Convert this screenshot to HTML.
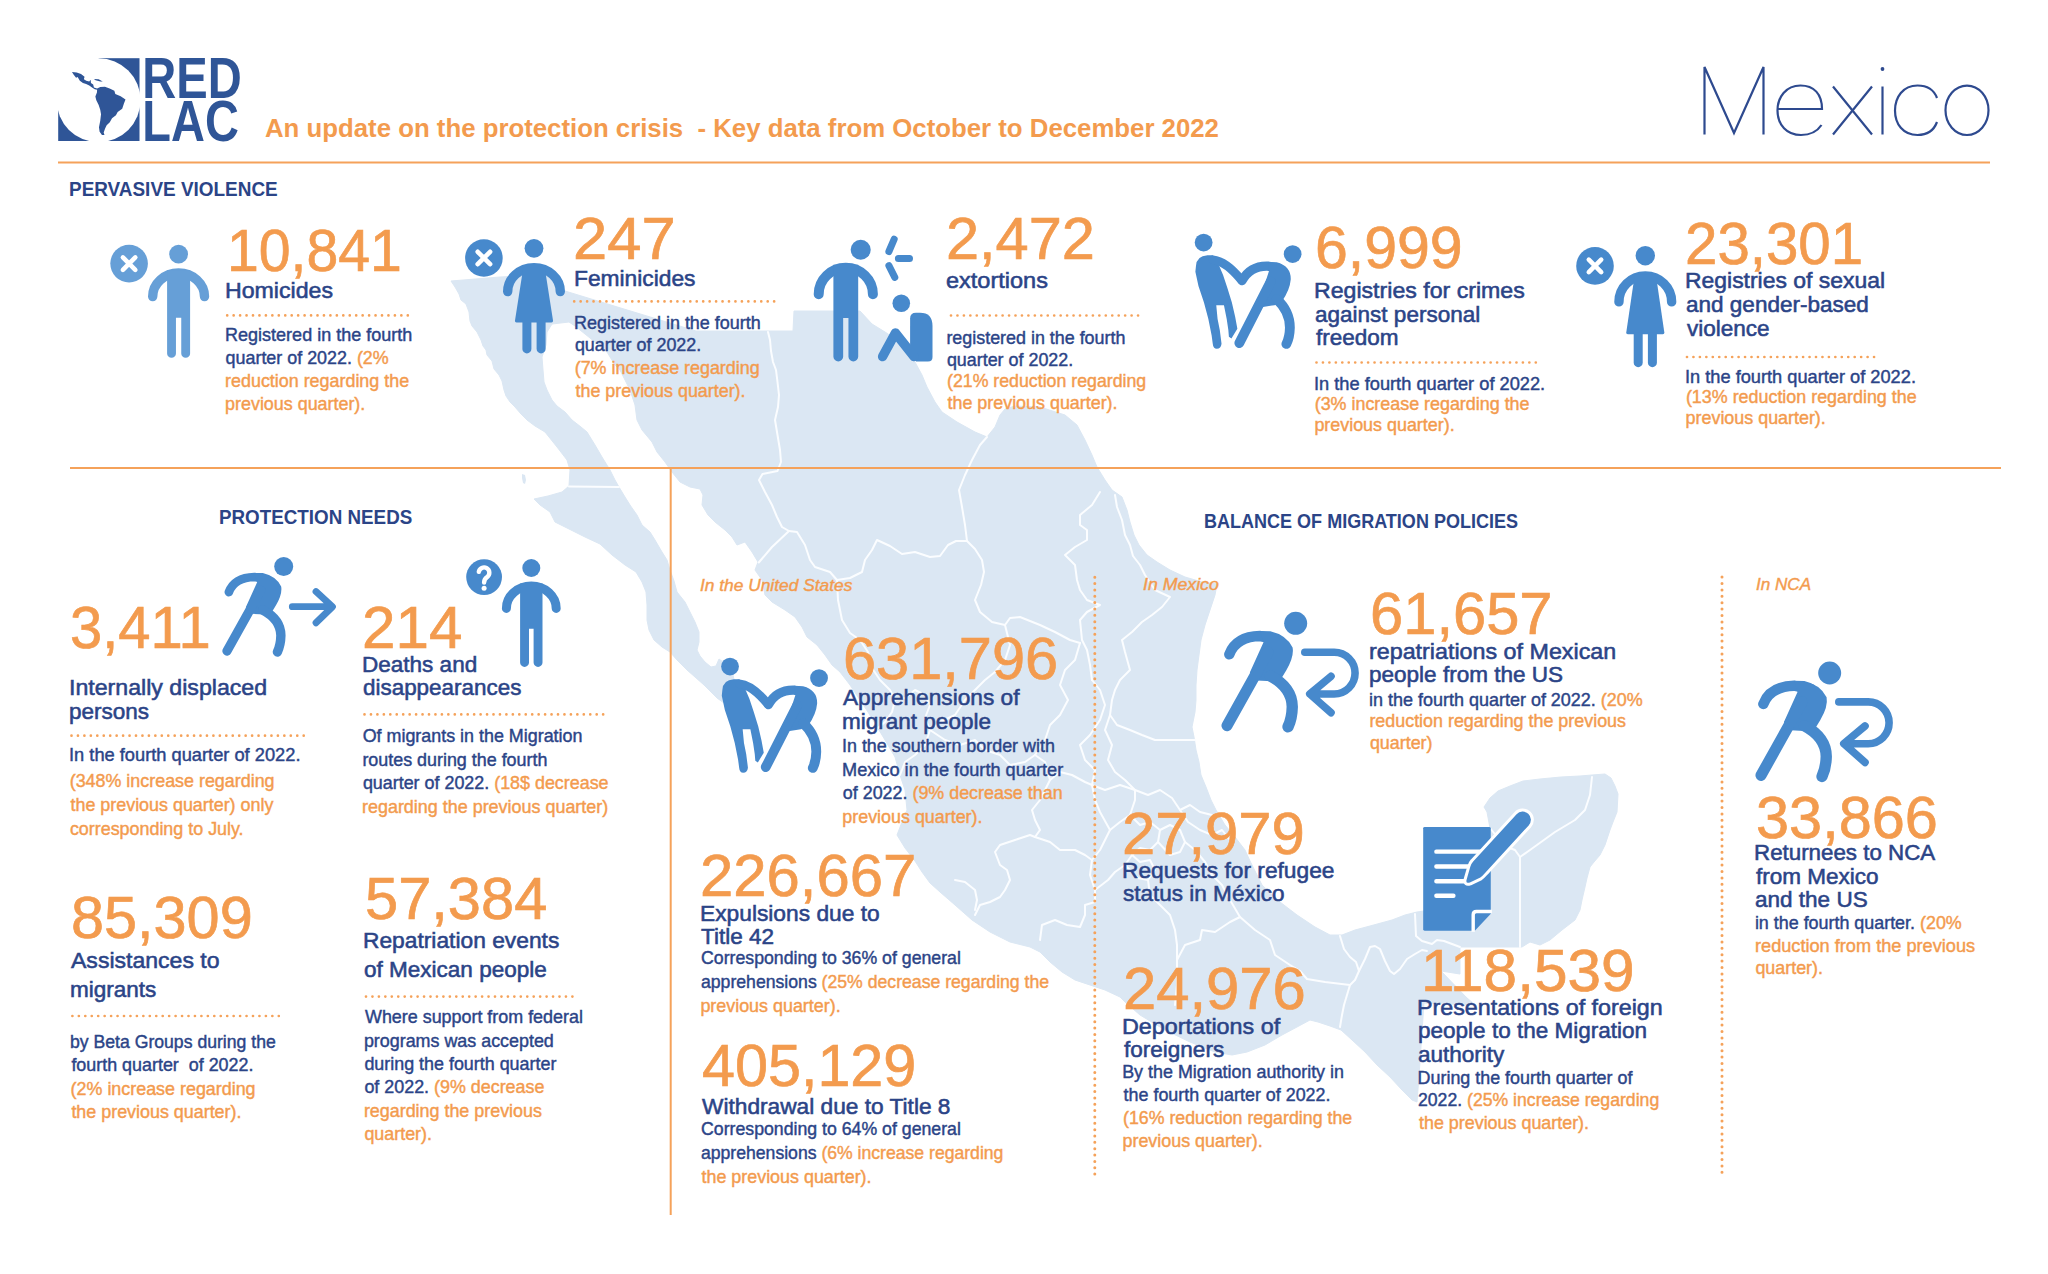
<!DOCTYPE html><html><head><meta charset="utf-8"><title>RED LAC - Mexico</title><style>
html,body{margin:0;padding:0;background:#fff}
body{width:2048px;height:1274px;position:relative;overflow:hidden;font-family:"Liberation Sans",sans-serif}
.t{position:absolute;white-space:pre;transform-origin:0 0;line-height:1}
.num{font-size:60px;font-weight:400;font-style:normal;-webkit-text-stroke:0.7px;}
.lab{font-size:22.3px;font-weight:400;font-style:normal;-webkit-text-stroke:0.55px;}
.body{font-size:17.9px;font-weight:400;font-style:normal;-webkit-text-stroke:0.42px;}
.hdr{font-size:19.5px;font-weight:700;font-style:normal;}
.sub{font-size:25.8px;font-weight:700;font-style:normal;}
.ita{font-size:17px;font-weight:400;font-style:italic;-webkit-text-stroke:0.4px;}
</style></head><body>
<svg width="2048" height="1274" viewBox="0 0 2048 1274" style="position:absolute;left:0;top:0">
<polygon points="451,281 500,277 556,274 560,284 565,291 696,331 793,331 794,311 860,311 872,324 885,332 897,340 906,351 915,362 922,375 927,387 935,402 942,412 957,422 975,432 987,437 995,427 1000,415 1005,409 1015,406 1040,407 1065,415 1077,425 1085,440 1092,455 1097,467 1105,480 1112,490 1122,497 1127,510 1130,522 1134,535 1139,545 1147,555 1157,562 1170,570 1185,577 1202,582 1217,584 1215,595 1210,610 1205,625 1201,640 1199,655 1197,670 1196,685 1196,700 1195,712 1192,727 1194,737 1196,750 1199,762 1201,775 1206,787 1211,800 1216,810 1225,825 1235,837 1245,850 1250,861 1262,885 1280,902 1297,915 1315,927 1330,935 1342,935 1355,930 1370,926 1392,920 1405,915 1417,912 1424,911 1440,903 1455,892 1467,878 1477,862 1485,845 1490,828 1487,812 1484,807 1490,798 1498,791 1510,786 1523,781 1540,779 1561,777 1580,776 1592,775 1605,774 1611,778 1615,786 1618,794 1617,812 1613,822 1610,830 1605,845 1600,855 1594,862 1590,867 1587,878 1585,887 1582,900 1580,910 1575,920 1562,930 1550,940 1540,945 1530,942 1522,947 1460,947 1460,974 1441,971 1466,997 1475,1005 1424,1003 1419,1076 1417,1102 1412,1100 1402,1090 1390,1077 1377,1065 1365,1052 1352,1040 1341,1030 1330,1026 1318,1022 1310,1020 1297,1027 1282,1035 1265,1045 1247,1052 1232,1055 1215,1052 1190,1042 1165,1030 1140,1015 1125,1002 1120,997 1105,990 1090,985 1075,980 1062,972 1050,962 1040,952 1030,947 1010,942 990,932 972,920 955,905 940,892 930,883 922,872 915,861 905,848 897,835 902,822 907,810 905,790 900,775 895,757 885,740 876,725 868,712 860,700 850,685 840,672 832,665 825,655 817,645 807,637 802,627 795,617 785,610 772,602 765,595 762,580 755,570 758,562 752,552 745,542 737,545 732,537 725,530 715,522 708,515 702,505 703,495 700,489 690,487 680,482 672,472 665,462 657,452 652,442 642,430 637,420 635,405 630,390 625,380 620,370 615,365 607,352 590,338 575,326 569,322 552,324 547,332 546,345 542,357 543,370 544,382 547,390 552,400 557,406 565,412 572,420 581,427 587,432 595,445 602,457 610,470 615,480 619,487 625,497 630,505 637,515 642,525 650,532 655,540 662,552 667,560 670,570 674,581 677,592 685,602 690,612 695,622 699,632 699,642 697,650 700,656 705,662 711,667 716,666 719,659 726,664 733,675 736,688 732,700 724,703 717,698 712,693 704,685 695,677 687,670 677,660 670,652 662,647 654,640 649,630 647,620 647,605 646,592 642,582 636,572 625,565 612,555 600,544 585,537 575,532 565,527 555,522 550,512 540,505 534,499 548,496 562,492 569,486 570,470 567,460 557,447 545,432 535,426 527,420 521,414 515,407 510,402 506,396 504,390 502,381 499,375 494,369 492,361 487,355 486,350 483,346 481,340 477,332 472,326 470,321 469,312 466,304 461,300 459,294 455,287" fill="#dbe7f3" stroke="#dbe7f3" stroke-width="1" stroke-linejoin="round"/>
<polygon points="522,474 525,475 526,480 525,484 523,483 522,478" fill="#dbe7f3"/>
<g fill="none" stroke="#fbfdff" stroke-width="2" stroke-linejoin="round" stroke-linecap="round">
<polyline points="569,486.5 619,487"/>
<polyline points="768,332 770,340 771,351 773,362 776,370 777.5,382 779,395 778,407 775,420 777.5,435 780,450 781,462 777.5,471 762.5,474 759,480 765,492 772,505 777,517 782,527 789,531"/>
<polyline points="789,531 772,547 758.75,562.5"/>
<polyline points="789,531 797,532 805,545 810,560 815,567 830,572 837,580"/>
<polyline points="837,580 850,578 862,572 865,560 872,550 877,540 890,546 902,554 915,552 930,557 940,556 948,545 956,541 967,541"/>
<polyline points="987,437 980,445 972,460 965,475 959,490 962,507 965,525 967,541"/>
<polyline points="967,541 975,549 982,560 984,572 981,585 975,600 980,612 992,622 1005,625 1010,618 1020,617 1040,625 1055,632 1070,640 1080,643"/>
<polyline points="1100,492 1092,505 1080,515 1080,525 1087,530 1087,540 1075,547 1065,555 1075,565 1077,580 1080,590 1087,600 1100,605 1087,612 1080,620 1082,640 1087,650 1090,665 1092,680"/>
<polyline points="1115,495 1117,507 1122,520 1125,535 1130,545 1133,556 1140,565 1145,575 1155,590 1170,597 1162,607 1152,615 1142,622 1132,632 1122,640 1125,652 1130,670 1120,680 1115,690 1112,700 1110,715 1117,725 1130,730 1142,735 1155,740 1167,740 1180,740 1195,740"/>
<polyline points="837,580 838,600 842,620 850,633 860,640 868,652 872,668 880,680 890,690 895,700"/>
<polyline points="895,700 905,698 915,690 925,695 930,705 925,718 930,730"/>
<polyline points="895,700 892,712 885,722 878,728"/>
<polyline points="930,730 940,722 955,715 965,700 975,690 985,680 995,672 1005,660 1010,645 1005,625"/>
<polyline points="930,730 925,745 915,755 905,762 900,775"/>
<polyline points="930,730 945,740 960,745 975,740 985,750 1000,755 1010,765 1025,762 1035,755 1045,762 1050,780"/>
<polyline points="1080,643 1075,660 1065,670 1060,685 1068,700 1060,715 1050,725 1045,740 1035,755"/>
<polyline points="1092,680 1100,690 1105,705 1100,720 1090,735 1080,745 1085,760 1095,770 1092,785"/>
<polyline points="1110,715 1105,730 1112,745 1108,760 1115,772 1125,780 1135,790"/>
<polyline points="1050,780 1045,790 1040,800 1032,810 1035,820 1040,830 1035,837 1030,835 1015,840 1000,845 995,852 1000,865 1007,870 1010,880 1005,890 1000,897 990,902 980,905 975,915"/>
<polyline points="955,880 965,882 975,890 977,900 975,910"/>
<polyline points="1050,780 1060,772 1072,775 1085,782 1092,785 1105,790 1120,785 1135,790"/>
<polyline points="1035,837 1050,842 1060,850 1075,850 1085,855 1092,860 1100,850 1105,840 1110,830 1120,822 1130,815 1135,800 1135,790"/>
<polyline points="1092,785 1095,800 1100,812 1110,830"/>
<polyline points="1092,860 1090,875 1095,890 1095,902 1085,905 1085,915 1080,927 1067,925 1055,920 1042,925 1040,940"/>
<polyline points="1135,790 1148,795 1160,790 1172,798 1180,810 1190,805 1200,812 1212,815"/>
<polyline points="1130,815 1140,825 1150,822 1160,830 1158,842 1150,850 1140,848 1132,855 1125,865 1115,872 1108,880 1095,890"/>
<polyline points="1160,830 1170,825 1180,830 1185,842 1180,852 1170,855 1158,842"/>
<polyline points="1132,855 1140,862 1150,860 1155,870 1148,880 1138,878 1125,865"/>
<polyline points="1148,880 1150,895 1160,905 1170,915 1175,930 1177,945 1177,960 1177,985 1175,1005"/>
<polyline points="1185,842 1195,850 1205,862 1212,875 1222,885 1230,900 1240,917"/>
<polyline points="1180,810 1188,822 1200,830 1212,835 1222,830 1230,840"/>
<polyline points="1177,960 1185,945 1200,940 1202,930 1215,932 1230,922 1240,917 1255,930 1270,940 1275,955 1290,965 1300,971 1307,979 1325,982 1350,985"/>
<polyline points="1340,936 1344,949 1350,957 1356,962 1359,971 1355,980 1350,985 1347,995 1344,1005 1342,1015 1340,1027"/>
<polyline points="1359,971 1365,959 1370,947 1375,946 1380,949 1385,961 1390,971 1394,974 1400,969 1407,959 1415,954 1422,950 1427,951"/>
<polyline points="1415,914 1416,936 1422,941 1432,944 1437,940 1444,941 1452,944 1460,947"/>
<polyline points="1520,947 1520,857"/>
<polyline points="1520,857 1530,850 1555,832 1575,820 1585,810 1590,795 1592,777"/>
<polyline points="1520,857 1515,850 1507,847 1498,838 1490,828"/>
</g>
<g stroke="#f5a25a" stroke-width="2" fill="none">
<line x1="58" y1="162.5" x2="1990" y2="162.5"/>
<line x1="70" y1="468" x2="2001" y2="468"/>
<line x1="670.7" y1="468" x2="670.7" y2="1215"/>
</g>
<line x1="227.2" y1="315.4" x2="413" y2="315.4" stroke="#f5a25a" stroke-width="2.7" stroke-linecap="round" stroke-dasharray="0 6.45"/>
<line x1="574.2" y1="301.4" x2="776" y2="301.4" stroke="#f5a25a" stroke-width="2.7" stroke-linecap="round" stroke-dasharray="0 6.45"/>
<line x1="951" y1="315.5" x2="1143" y2="315.5" stroke="#f5a25a" stroke-width="2.7" stroke-linecap="round" stroke-dasharray="0 6.45"/>
<line x1="1316.5" y1="362.5" x2="1539" y2="362.5" stroke="#f5a25a" stroke-width="2.7" stroke-linecap="round" stroke-dasharray="0 6.45"/>
<line x1="1687" y1="357" x2="1879" y2="357" stroke="#f5a25a" stroke-width="2.7" stroke-linecap="round" stroke-dasharray="0 6.45"/>
<line x1="71.5" y1="735.7" x2="306" y2="735.7" stroke="#f5a25a" stroke-width="2.7" stroke-linecap="round" stroke-dasharray="0 6.45"/>
<line x1="364.5" y1="714.4" x2="606.5" y2="714.4" stroke="#f5a25a" stroke-width="2.7" stroke-linecap="round" stroke-dasharray="0 6.45"/>
<line x1="72.4" y1="1016" x2="280" y2="1016" stroke="#f5a25a" stroke-width="2.7" stroke-linecap="round" stroke-dasharray="0 6.45"/>
<line x1="366" y1="996.6" x2="574" y2="996.6" stroke="#f5a25a" stroke-width="2.7" stroke-linecap="round" stroke-dasharray="0 6.45"/>
<line x1="1094.8" y1="577.2" x2="1094.8" y2="1175" stroke="#f5a25a" stroke-width="3.0" stroke-linecap="round" stroke-dasharray="0 6.35"/>
<line x1="1722" y1="577.1" x2="1722" y2="1176" stroke="#f5a25a" stroke-width="3.0" stroke-linecap="round" stroke-dasharray="0 6.4"/>
<circle cx="129.1" cy="263.6" r="18.8" fill="#669fd7"/><path d="M122.9,257.4L135.3,269.8M135.3,257.4L122.9,269.8" stroke="#fff" stroke-width="4.6" stroke-linecap="round" fill="none"/>
<circle cx="178.6" cy="254.1" r="9.4" fill="#669fd7"/><path d="M152.7,296.6A25.9,23.6 0 0 1 204.5,296.6" stroke="#669fd7" stroke-width="9.4" stroke-linecap="round" fill="none"/><path d="M167.1,270.3L190.1,270.3L190.1,353.38A4.42,4.42 0 0 1 181.25,353.38L181.25,317.7L175.95,317.7L175.95,353.38A4.42,4.42 0 0 1 167.1,353.38Z" fill="#669fd7"/>
<circle cx="483.9" cy="258" r="18.8" fill="#4789cc"/><path d="M477.7,251.8L490.1,264.2M490.1,251.8L477.7,264.2" stroke="#fff" stroke-width="4.6" stroke-linecap="round" fill="none"/>
<circle cx="534" cy="248.3" r="9.4" fill="#4789cc"/><path d="M507.7,291.6A26.3,24 0 0 1 560.3,291.6" stroke="#4789cc" stroke-width="9.4" stroke-linecap="round" fill="none"/><path d="M523.5,265.9L544.5,265.9L553,320.4Q553.3,322.4 551.5,322.4L516.5,322.4Q514.7,322.4 515,320.4Z" fill="#4789cc"/><path d="M522.4,320.4L531.4,320.4L531.4,348.9A4.5,4.5 0 0 1 522.4,348.9Z" fill="#4789cc"/><path d="M536.6,320.4L545.6,320.4L545.6,348.9A4.5,4.5 0 0 1 536.6,348.9Z" fill="#4789cc"/>
<circle cx="1595" cy="265.9" r="18.8" fill="#4789cc"/><path d="M1588.8,259.7L1601.2,272.1M1601.2,259.7L1588.8,272.1" stroke="#fff" stroke-width="4.6" stroke-linecap="round" fill="none"/>
<circle cx="1645.3" cy="255.7" r="9.7" fill="#4789cc"/><path d="M1618.95,301.9A26.35,26 0 0 1 1671.65,301.9" stroke="#4789cc" stroke-width="9.4" stroke-linecap="round" fill="none"/><path d="M1634.8,274.2L1655.8,274.2L1664.3,332.15Q1664.6,334.27 1662.8,334.27L1627.8,334.27Q1626,334.27 1626.3,332.15Z" fill="#4789cc"/><path d="M1633.7,332.15L1642.7,332.15L1642.7,362.63A4.5,4.5 0 0 1 1633.7,362.63Z" fill="#4789cc"/><path d="M1647.9,332.15L1656.9,332.15L1656.9,362.63A4.5,4.5 0 0 1 1647.9,362.63Z" fill="#4789cc"/>
<circle cx="484.1" cy="577.1" r="17.9" fill="#4789cc"/><path d="M478.8,571.9A5.3,5.3 0 1 1 487.3,576.9Q484.1,578.9 484.1,582.6" stroke="#fff" stroke-width="4.4" fill="none" stroke-linecap="round"/><circle cx="484.1" cy="588.3" r="2.5" fill="#fff"/>
<circle cx="531.3" cy="568" r="9.0" fill="#4789cc"/><path d="M506.4,608.4A24.9,22.4 0 0 1 556.2,608.4" stroke="#4789cc" stroke-width="9.0" stroke-linecap="round" fill="none"/><path d="M520.1,583.5L542.5,583.5L542.5,662.45A4.45,4.45 0 0 1 533.6,662.45L533.6,628.7L529,628.7L529,662.45A4.45,4.45 0 0 1 520.1,662.45Z" fill="#4789cc"/>
<circle cx="860.7" cy="249.7" r="10" fill="#4789cc"/><path d="M818.7,294.2A27.1,26.5 0 0 1 872.9,294.2" stroke="#4789cc" stroke-width="10" stroke-linecap="round" fill="none"/><path d="M833.4,264.7L858.2,264.7L858.2,356.73A4.88,4.88 0 0 1 848.45,356.73L848.45,318L843.15,318L843.15,356.73A4.88,4.88 0 0 1 833.4,356.73Z" fill="#4789cc"/>
<path d="M894.2,239.1L888.9,251.5M898.4,258.6L909.5,258.6M888.9,265.6L894.8,277.4" stroke="#4789cc" stroke-width="7" stroke-linecap="round" fill="none"/>
<circle cx="901.3" cy="303.3" r="8.8" fill="#4789cc"/>
<path d="M910.1,318.5Q910.1,312.7 916,312.7L920,312.7Q932.5,312.7 932.5,326L932.5,357Q932.5,361.6 928,361.6L916,361.6L910.1,352Z" fill="#4789cc"/>
<path d="M882.6,356.6L895.4,333L914,356.5" stroke="#4789cc" stroke-width="9.4" stroke-linecap="round" stroke-linejoin="round" fill="none"/>
<circle cx="1203.63" cy="242.53" r="8.9" fill="#4789cc"/><circle cx="1292.64" cy="254.07" r="8.9" fill="#4789cc"/><path d="M1195.93,266.15Q1196.48,255.71 1207.47,255.16L1212.97,255.16L1219.34,266.15L1223.08,274.95L1227.47,288.13L1231.87,302.42L1235.16,316.7L1237.36,328.79L1231.43,338.46L1228.9,336.7L1228.35,329.89L1226.7,318.9L1223.96,305.16L1216.26,305.16L1217.58,318.9L1219.78,329.89L1221.54,343.63Q1220.88,348.79 1216.81,348.79Q1213.19,348.57 1212.75,343.63L1211.65,335.38L1208.35,318.9L1203.96,302.42L1198.46,285.93L1195.38,271.65Z" fill="#4789cc"/><path d="M1212.97,259.78Q1226.15,261.1 1241.54,280.22" stroke="#4789cc" stroke-width="8.8" stroke-linecap="round" fill="none"/><path d="M1242.09,280.66Q1250.33,265.6 1267.91,266.15L1278.9,268.35" stroke="#4789cc" stroke-width="9.2" stroke-linecap="round" stroke-linejoin="round" fill="none"/><path d="M1267.91,261.76L1276.7,262.31Q1290.99,266.15 1290.77,279.34Q1289.89,290.33 1281.65,301.87L1274.51,305.16L1256.92,307.91L1269.01,271.1Z" fill="#4789cc"/><path d="M1270.77,281.54L1239.34,343.08" stroke="#4789cc" stroke-width="9.8" stroke-linecap="round" fill="none"/><path d="M1276.7,299.12Q1289.89,311.21 1289.89,327.69Q1289.67,337.58 1286.37,343.96" stroke="#4789cc" stroke-width="9.8" stroke-linecap="round" fill="none"/>
<circle cx="730.03" cy="666.53" r="8.9" fill="#4789cc"/><circle cx="819.04" cy="678.07" r="8.9" fill="#4789cc"/><path d="M722.33,690.15Q722.88,679.71 733.87,679.16L739.37,679.16L745.74,690.15L749.48,698.95L753.87,712.13L758.27,726.42L761.56,740.7L763.76,752.79L757.83,762.46L755.3,760.7L754.75,753.89L753.1,742.9L750.36,729.16L742.66,729.16L743.98,742.9L746.18,753.89L747.94,767.63Q747.28,772.79 743.21,772.79Q739.59,772.57 739.15,767.63L738.05,759.38L734.75,742.9L730.36,726.42L724.86,709.93L721.78,695.65Z" fill="#4789cc"/><path d="M739.37,683.78Q752.55,685.1 767.94,704.22" stroke="#4789cc" stroke-width="8.8" stroke-linecap="round" fill="none"/><path d="M768.49,704.66Q776.73,689.6 794.31,690.15L805.3,692.35" stroke="#4789cc" stroke-width="9.2" stroke-linecap="round" stroke-linejoin="round" fill="none"/><path d="M794.31,685.76L803.1,686.31Q817.39,690.15 817.17,703.34Q816.29,714.33 808.05,725.87L800.91,729.16L783.32,731.91L795.41,695.1Z" fill="#4789cc"/><path d="M797.17,705.54L765.74,767.08" stroke="#4789cc" stroke-width="9.8" stroke-linecap="round" fill="none"/><path d="M803.1,723.12Q816.29,735.21 816.29,751.69Q816.07,761.58 812.77,767.96" stroke="#4789cc" stroke-width="9.8" stroke-linecap="round" fill="none"/>
<circle cx="283.7" cy="566.49" r="9.5" fill="#4789cc"/><path d="M228.85,592.13Q234.51,577.52 254.3,577.05L268.44,579.87" stroke="#4789cc" stroke-width="8.6" stroke-linecap="round" stroke-linejoin="round" fill="none"/><path d="M254.3,572.9L262.78,573.09Q275.98,576.1 281.16,586.47Q282.57,594.01 275.98,605.32L272.21,611.45L270.32,614.75L251.47,613.8L245.82,607.21L257.13,582.23Z" fill="#4789cc"/><path d="M260.9,590.24L226.97,651.03" stroke="#4789cc" stroke-width="9.2" stroke-linecap="round" fill="none"/><path d="M262.78,610.03Q280.69,619.46 280.88,635.48Q280.69,644.91 277.39,651.97" stroke="#4789cc" stroke-width="9.4" stroke-linecap="round" fill="none"/>
<path d="M292.3,606.7L331.5,606.7M316,591.5L332.5,606.7L316,622.8" stroke="#4789cc" stroke-width="6.8" stroke-linecap="round" stroke-linejoin="round" fill="none"/>
<circle cx="1295.68" cy="623.3" r="11.49" fill="#4789cc"/><path d="M1229.31,654.32Q1236.15,636.64 1260.1,636.07L1277.21,639.5" stroke="#4789cc" stroke-width="10.41" stroke-linecap="round" stroke-linejoin="round" fill="none"/><path d="M1260.1,631.06L1270.36,631.28Q1286.33,634.93 1292.6,647.48Q1294.31,656.6 1286.33,670.29L1281.77,677.7L1279.49,681.69L1256.68,680.55L1249.84,672.57L1263.52,642.35Z" fill="#4789cc"/><path d="M1268.08,652.04L1227.03,725.6" stroke="#4789cc" stroke-width="11.13" stroke-linecap="round" fill="none"/><path d="M1270.36,675.99Q1292.03,687.39 1292.26,706.78Q1292.03,718.19 1288.04,726.74" stroke="#4789cc" stroke-width="11.37" stroke-linecap="round" fill="none"/>
<path d="M1304.8,652.2L1334.2,652.2A20.9,20.9 0 0 1 1334.2,694L1311,694M1331,676.3L1309.8,694L1331,712.7" stroke="#4789cc" stroke-width="7.6" stroke-linecap="round" stroke-linejoin="round" fill="none"/>
<circle cx="1829.68" cy="673" r="11.49" fill="#4789cc"/><path d="M1763.31,704.02Q1770.15,686.34 1794.1,685.77L1811.21,689.2" stroke="#4789cc" stroke-width="10.41" stroke-linecap="round" stroke-linejoin="round" fill="none"/><path d="M1794.1,680.76L1804.36,680.98Q1820.33,684.63 1826.6,697.18Q1828.31,706.3 1820.33,719.99L1815.77,727.4L1813.49,731.39L1790.68,730.25L1783.84,722.27L1797.52,692.05Z" fill="#4789cc"/><path d="M1802.08,701.74L1761.03,775.3" stroke="#4789cc" stroke-width="11.13" stroke-linecap="round" fill="none"/><path d="M1804.36,725.69Q1826.03,737.09 1826.26,756.48Q1826.03,767.89 1822.04,776.44" stroke="#4789cc" stroke-width="11.37" stroke-linecap="round" fill="none"/>
<path d="M1838.8,701.9L1868.2,701.9A20.9,20.9 0 0 1 1868.2,743.7L1845,743.7M1865,726L1843.8,743.7L1865,762.4" stroke="#4789cc" stroke-width="7.6" stroke-linecap="round" stroke-linejoin="round" fill="none"/>
<path d="M1424.62,826.92L1489.34,826.92Q1490.77,826.92 1490.77,828.35L1490.77,913.74L1474.84,930.77L1424.62,930.77Q1423.19,930.77 1423.19,929.34L1423.19,828.35Q1423.19,826.92 1424.62,826.92Z" fill="#4789cc"/><path d="M1491.87,911.54L1476.48,911.54Q1473.19,911.54 1473.19,914.84L1473.19,931.87" stroke="#fff" stroke-width="3.4" fill="none"/><path d="M1436.37,851.65L1480.33,851.65M1436.37,866.48L1471.54,866.48M1436.37,881.32L1464.95,881.32M1436.37,895.82L1453.41,895.82" stroke="#fff" stroke-width="4.4" stroke-linecap="round" fill="none"/><path d="M1473.19,861.43L1516.59,814.18A8.24,8.24 0 0 1 1528.68,825.38L1485.27,872.64Q1482.53,875.82 1480.33,877.47L1469.89,882.42Q1465.49,884.07 1466.59,879.67L1470.22,867.03Q1470.99,863.74 1473.19,861.43Z" fill="#fff" stroke="#fff" stroke-width="6" stroke-linejoin="round"/><path d="M1473.19,861.43L1516.59,814.18A8.24,8.24 0 0 1 1528.68,825.38L1485.27,872.64Q1482.53,875.82 1480.33,877.47L1469.89,882.42Q1465.49,884.07 1466.59,879.67L1470.22,867.03Q1470.99,863.74 1473.19,861.43Z" fill="#4789cc"/>
<rect x="98.6" y="58.2" width="40.900000000000006" height="42.099999999999994" fill="#2f5597"/><rect x="58.2" y="100.3" width="81.3" height="40.7" fill="#2f5597"/><circle cx="98.6" cy="100.3" r="42" fill="#fff"/><polygon points="71.98,71.98 76.69,72.61 81,73.94 84.54,76.69 83.91,79.2 86.26,80.77 89.25,81.55 90.66,79.83 90.97,82.97 93.17,84.54 93.96,87.52 97.1,88.46 100.24,86.89 104.95,86.73 109.65,88.46 114.36,90.82 115.31,93.96 120.64,96.31 125.51,99.45 123.94,103.38 122.21,108.87 117.66,112.01 115.93,115.15 112.01,118.29 109.81,122.21 106.67,125.35 105.1,128.49 103.69,132.42 104.47,134.93 101.96,134.93 99.61,131.63 98.98,127.32 100.24,120.64 101.02,114.36 100.24,109.65 98.67,104.95 96.31,100.24 95.37,96.47 96.94,92.39 97.1,89.64 94.74,89.25 92.39,87.83 89.25,85.48 86.11,83.91 82.97,83.12 79.83,80.77 77.63,77.08 76.06,77.63 73.55,74.49" fill="#2f5597"/><polygon points="93.96,78.89 98.67,79.36 102.75,81.4 100.24,81.55 95.53,80.3" fill="#2f5597"/>
<g font-family="Liberation Sans, sans-serif" font-weight="700" font-size="57.3" fill="#2f5597"><text x="142.3" y="97.8" textLength="99.5" lengthAdjust="spacingAndGlyphs">RED</text><text x="142.3" y="141" textLength="96.5" lengthAdjust="spacingAndGlyphs">LAC</text></g>
<g fill="none" stroke="#2e4a8f" stroke-width="2.2" stroke-linejoin="miter"><path d="M1704.5,134.5L1704.5,67L1734,133L1763.5,67L1763.5,134.5"/><path d="M1778,109L1822,109C1822,94 1814,85.5 1800.5,85.5C1786,85.5 1777.5,97 1777.5,110.5C1777.5,125 1787,135 1801,135C1811,135 1817.5,131 1821.5,125"/><path d="M1833,86.5L1872,134.5M1872,86.5L1833,134.5"/><path d="M1882.5,86.5L1882.5,134.5"/><path d="M1937,98C1934,90 1927,85.5 1917.5,85.5C1903,85.5 1895,97 1895,110.5C1895,124 1903,135 1917.5,135C1927,135 1934,130 1937,122"/><ellipse cx="1967" cy="110.3" rx="21.5" ry="24.7"/></g><circle cx="1882.5" cy="69" r="1.9" fill="#2e4a8f"/>
</svg>
<div class="t sub" style="left:264.6px;top:115.5px;color:#f39b4e;transform:scaleX(0.9992)">An update on the protection crisis  - Key data from October to December 2022</div>
<div class="t hdr" style="left:68.8px;top:180.0px;color:#2b4487;transform:scaleX(0.9710)">PERVASIVE VIOLENCE</div>
<div class="t hdr" style="left:219.4px;top:507.7px;color:#2b4487;transform:scaleX(0.9642)">PROTECTION NEEDS</div>
<div class="t hdr" style="left:1203.5px;top:512.0px;color:#2b4487;transform:scaleX(0.9241)">BALANCE OF MIGRATION POLICIES</div>
<div class="t ita" style="left:700.0px;top:576.5px;color:#f39b4e;transform:scaleX(1.0201)">In the United States</div>
<div class="t ita" style="left:1143.4px;top:576.2px;color:#f39b4e;transform:scaleX(1.0419)">In Mexico</div>
<div class="t ita" style="left:1755.5px;top:576.4px;color:#f39b4e;transform:scaleX(1.0047)">In NCA</div>
<div class="t num" style="left:227.4px;top:221.2px;color:#f39b4e;transform:scaleX(0.9530)">10,841</div>
<div class="t lab" style="left:225.2px;top:280.3px;color:#2b4487;transform:scaleX(1.0378)">Homicides</div>
<div class="t body" style="left:224.8px;top:326.5px;color:#2b4487;transform:scaleX(1.0073)">Registered in the fourth</div>
<div class="t body" style="left:225.6px;top:349.8px;color:#2b4487;transform:scaleX(1.0000)"><span style="color:#2b4487">quarter of 2022. </span><span style="color:#f39b4e">(2%</span></div>
<div class="t body" style="left:225.1px;top:372.8px;color:#f39b4e;transform:scaleX(1.0000)">reduction regarding the</div>
<div class="t body" style="left:225.1px;top:395.8px;color:#f39b4e;transform:scaleX(1.0000)">previous quarter).</div>
<div class="t num" style="left:573.4px;top:209.3px;color:#f39b4e;transform:scaleX(1.0257)">247</div>
<div class="t lab" style="left:574.2px;top:267.9px;color:#2b4487;transform:scaleX(1.0212)">Feminicides</div>
<div class="t body" style="left:574.1px;top:314.8px;color:#2b4487;transform:scaleX(1.0045)">Registered in the fourth</div>
<div class="t body" style="left:574.9px;top:337.3px;color:#2b4487;transform:scaleX(1.0000)">quarter of 2022.</div>
<div class="t body" style="left:574.7px;top:360.3px;color:#f39b4e;transform:scaleX(1.0000)">(7% increase regarding</div>
<div class="t body" style="left:575.5px;top:383.3px;color:#f39b4e;transform:scaleX(1.0000)">the previous quarter).</div>
<div class="t num" style="left:945.9px;top:208.8px;color:#f39b4e;transform:scaleX(0.9917)">2,472</div>
<div class="t lab" style="left:946.3px;top:270.4px;color:#2b4487;transform:scaleX(1.0547)">extortions</div>
<div class="t body" style="left:946.4px;top:329.8px;color:#2b4487;transform:scaleX(1.0000)">registered in the fourth</div>
<div class="t body" style="left:946.9px;top:352.3px;color:#2b4487;transform:scaleX(1.0000)">quarter of 2022.</div>
<div class="t body" style="left:946.7px;top:372.8px;color:#f39b4e;transform:scaleX(0.9917)">(21% reduction regarding</div>
<div class="t body" style="left:947.5px;top:394.8px;color:#f39b4e;transform:scaleX(1.0000)">the previous quarter).</div>
<div class="t num" style="left:1315.4px;top:217.8px;color:#f39b4e;transform:scaleX(0.9834)">6,999</div>
<div class="t lab" style="left:1313.7px;top:279.7px;color:#2b4487;transform:scaleX(1.0370)">Registries for crimes</div>
<div class="t lab" style="left:1314.8px;top:303.7px;color:#2b4487;transform:scaleX(1.0100)">against personal</div>
<div class="t lab" style="left:1315.5px;top:327.4px;color:#2b4487;transform:scaleX(1.0100)">freedom</div>
<div class="t body" style="left:1314.1px;top:375.8px;color:#2b4487;transform:scaleX(1.0193)">In the fourth quarter of 2022.</div>
<div class="t body" style="left:1314.7px;top:395.8px;color:#f39b4e;transform:scaleX(1.0000)">(3% increase regarding the</div>
<div class="t body" style="left:1314.4px;top:417.3px;color:#f39b4e;transform:scaleX(1.0000)">previous quarter).</div>
<div class="t num" style="left:1685.3px;top:214.3px;color:#f39b4e;transform:scaleX(0.9704)">23,301</div>
<div class="t lab" style="left:1684.9px;top:270.4px;color:#2b4487;transform:scaleX(1.0283)">Registries of sexual</div>
<div class="t lab" style="left:1686.0px;top:294.2px;color:#2b4487;transform:scaleX(1.0100)">and gender-based</div>
<div class="t lab" style="left:1686.7px;top:317.9px;color:#2b4487;transform:scaleX(1.0100)">violence</div>
<div class="t body" style="left:1685.3px;top:369.0px;color:#2b4487;transform:scaleX(1.0184)">In the fourth quarter of 2022.</div>
<div class="t body" style="left:1685.9px;top:388.8px;color:#f39b4e;transform:scaleX(1.0000)">(13% reduction regarding the</div>
<div class="t body" style="left:1685.6px;top:410.3px;color:#f39b4e;transform:scaleX(1.0000)">previous quarter).</div>
<div class="t num" style="left:69.6px;top:598.2px;color:#f39b4e;transform:scaleX(0.9661)">3,411</div>
<div class="t lab" style="left:68.7px;top:677.2px;color:#2b4487;transform:scaleX(1.0378)">Internally displaced</div>
<div class="t lab" style="left:69.1px;top:700.7px;color:#2b4487;transform:scaleX(1.0100)">persons</div>
<div class="t body" style="left:69.1px;top:746.8px;color:#2b4487;transform:scaleX(1.0207)">In the fourth quarter of 2022.</div>
<div class="t body" style="left:69.7px;top:773.3px;color:#f39b4e;transform:scaleX(1.0000)">(348% increase regarding</div>
<div class="t body" style="left:70.5px;top:797.0px;color:#f39b4e;transform:scaleX(1.0000)">the previous quarter) only</div>
<div class="t body" style="left:69.9px;top:820.6px;color:#f39b4e;transform:scaleX(1.0000)">corresponding to July.</div>
<div class="t num" style="left:362.2px;top:598.2px;color:#f39b4e;transform:scaleX(1.0021)">214</div>
<div class="t lab" style="left:361.7px;top:653.7px;color:#2b4487;transform:scaleX(1.0100)">Deaths and</div>
<div class="t lab" style="left:362.8px;top:677.2px;color:#2b4487;transform:scaleX(1.0060)">disappearances</div>
<div class="t body" style="left:362.7px;top:728.0px;color:#2b4487;transform:scaleX(1.0000)">Of migrants in the Migration</div>
<div class="t body" style="left:362.4px;top:751.5px;color:#2b4487;transform:scaleX(1.0000)">routes during the fourth</div>
<div class="t body" style="left:362.9px;top:775.1px;color:#2b4487;transform:scaleX(1.0000)"><span style="color:#2b4487">quarter of 2022. </span><span style="color:#f39b4e">(18$ decrease</span></div>
<div class="t body" style="left:362.4px;top:798.6px;color:#f39b4e;transform:scaleX(1.0024)">regarding the previous quarter)</div>
<div class="t num" style="left:71.1px;top:888.3px;color:#f39b4e;transform:scaleX(0.9899)">85,309</div>
<div class="t lab" style="left:71.4px;top:950.1px;color:#2b4487;transform:scaleX(1.0331)">Assistances to</div>
<div class="t lab" style="left:70.0px;top:978.9px;color:#2b4487;transform:scaleX(1.0100)">migrants</div>
<div class="t body" style="left:70.3px;top:1033.7px;color:#2b4487;transform:scaleX(0.9854)">by Beta Groups during the</div>
<div class="t body" style="left:71.4px;top:1057.3px;color:#2b4487;transform:scaleX(1.0000)">fourth quarter  of 2022.</div>
<div class="t body" style="left:70.6px;top:1080.8px;color:#f39b4e;transform:scaleX(1.0000)">(2% increase regarding</div>
<div class="t body" style="left:71.4px;top:1104.3px;color:#f39b4e;transform:scaleX(1.0000)">the previous quarter).</div>
<div class="t num" style="left:364.7px;top:868.8px;color:#f39b4e;transform:scaleX(0.9936)">57,384</div>
<div class="t lab" style="left:363.2px;top:929.7px;color:#2b4487;transform:scaleX(1.0216)">Repatriation events</div>
<div class="t lab" style="left:364.3px;top:958.5px;color:#2b4487;transform:scaleX(1.0100)">of Mexican people</div>
<div class="t body" style="left:365.0px;top:1009.3px;color:#2b4487;transform:scaleX(1.0005)">Where support from federal</div>
<div class="t body" style="left:363.9px;top:1032.8px;color:#2b4487;transform:scaleX(1.0000)">programs was accepted</div>
<div class="t body" style="left:364.4px;top:1056.3px;color:#2b4487;transform:scaleX(1.0000)">during the fourth quarter</div>
<div class="t body" style="left:364.4px;top:1079.3px;color:#2b4487;transform:scaleX(1.0000)"><span style="color:#2b4487">of 2022. </span><span style="color:#f39b4e">(9% decrease</span></div>
<div class="t body" style="left:363.9px;top:1102.8px;color:#f39b4e;transform:scaleX(1.0000)">regarding the previous</div>
<div class="t body" style="left:364.4px;top:1126.3px;color:#f39b4e;transform:scaleX(1.0000)">quarter).</div>
<div class="t num" style="left:843.2px;top:628.8px;color:#f39b4e;transform:scaleX(0.9922)">631,796</div>
<div class="t lab" style="left:843.4px;top:687.2px;color:#2b4487;transform:scaleX(1.0170)">Apprehensions of</div>
<div class="t lab" style="left:842.0px;top:710.7px;color:#2b4487;transform:scaleX(1.0100)">migrant people</div>
<div class="t body" style="left:842.0px;top:738.0px;color:#2b4487;transform:scaleX(1.0000)">In the southern border with</div>
<div class="t body" style="left:842.0px;top:761.5px;color:#2b4487;transform:scaleX(1.0157)">Mexico in the fourth quarter</div>
<div class="t body" style="left:842.8px;top:785.1px;color:#2b4487;transform:scaleX(1.0000)"><span style="color:#2b4487">of 2022. </span><span style="color:#f39b4e">(9% decrease than</span></div>
<div class="t body" style="left:842.3px;top:808.6px;color:#f39b4e;transform:scaleX(1.0000)">previous quarter).</div>
<div class="t num" style="left:700.2px;top:845.8px;color:#f39b4e;transform:scaleX(0.9970)">226,667</div>
<div class="t lab" style="left:699.7px;top:902.7px;color:#2b4487;transform:scaleX(1.0208)">Expulsions due to</div>
<div class="t lab" style="left:701.1px;top:926.3px;color:#2b4487;transform:scaleX(1.0100)">Title 42</div>
<div class="t body" style="left:700.7px;top:950.3px;color:#2b4487;transform:scaleX(0.9897)">Corresponding to 36% of general</div>
<div class="t body" style="left:700.9px;top:973.9px;color:#2b4487;transform:scaleX(0.9859)"><span style="color:#2b4487">apprehensions </span><span style="color:#f39b4e">(25% decrease regarding the</span></div>
<div class="t body" style="left:700.4px;top:997.5px;color:#f39b4e;transform:scaleX(1.0000)">previous quarter).</div>
<div class="t num" style="left:702.1px;top:1035.8px;color:#f39b4e;transform:scaleX(0.9882)">405,129</div>
<div class="t lab" style="left:701.5px;top:1095.9px;color:#2b4487;transform:scaleX(1.0177)">Withdrawal due to Title 8</div>
<div class="t body" style="left:700.7px;top:1120.6px;color:#2b4487;transform:scaleX(0.9897)">Corresponding to 64% of general</div>
<div class="t body" style="left:700.9px;top:1145.1px;color:#2b4487;transform:scaleX(0.9840)"><span style="color:#2b4487">apprehensions </span><span style="color:#f39b4e">(6% increase regarding</span></div>
<div class="t body" style="left:701.5px;top:1168.6px;color:#f39b4e;transform:scaleX(1.0000)">the previous quarter).</div>
<div class="t num" style="left:1369.9px;top:584.3px;color:#f39b4e;transform:scaleX(0.9946)">61,657</div>
<div class="t lab" style="left:1369.0px;top:640.7px;color:#2b4487;transform:scaleX(1.0444)">repatriations of Mexican</div>
<div class="t lab" style="left:1369.1px;top:664.3px;color:#2b4487;transform:scaleX(1.0100)">people from the US</div>
<div class="t body" style="left:1369.4px;top:692.1px;color:#2b4487;transform:scaleX(1.0048)"><span style="color:#2b4487">in the fourth quarter of 2022. </span><span style="color:#f39b4e">(20%</span></div>
<div class="t body" style="left:1369.4px;top:712.8px;color:#f39b4e;transform:scaleX(1.0000)">reduction regarding the previous</div>
<div class="t body" style="left:1369.9px;top:735.3px;color:#f39b4e;transform:scaleX(1.0000)">quarter)</div>
<div class="t num" style="left:1121.7px;top:803.8px;color:#f39b4e;transform:scaleX(0.9957)">27,979</div>
<div class="t lab" style="left:1121.8px;top:859.6px;color:#2b4487;transform:scaleX(1.0204)">Requests for refugee</div>
<div class="t lab" style="left:1123.2px;top:882.7px;color:#2b4487;transform:scaleX(1.0100)">status in México</div>
<div class="t num" style="left:1123.2px;top:958.7px;color:#f39b4e;transform:scaleX(0.9962)">24,976</div>
<div class="t lab" style="left:1121.8px;top:1015.7px;color:#2b4487;transform:scaleX(1.0457)">Deportations of</div>
<div class="t lab" style="left:1123.6px;top:1038.7px;color:#2b4487;transform:scaleX(1.0100)">foreigners</div>
<div class="t body" style="left:1122.2px;top:1064.2px;color:#2b4487;transform:scaleX(1.0000)">By the Migration authority in</div>
<div class="t body" style="left:1123.6px;top:1086.8px;color:#2b4487;transform:scaleX(1.0000)">the fourth quarter of 2022.</div>
<div class="t body" style="left:1122.8px;top:1110.3px;color:#f39b4e;transform:scaleX(0.9931)">(16% reduction regarding the</div>
<div class="t body" style="left:1122.5px;top:1133.3px;color:#f39b4e;transform:scaleX(1.0000)">previous quarter).</div>
<div class="t num" style="left:1420.7px;top:940.8px;color:#f39b4e;transform:scaleX(1.0051)">118,539</div>
<div class="t lab" style="left:1417.2px;top:996.7px;color:#2b4487;transform:scaleX(1.0433)">Presentations of foreign</div>
<div class="t lab" style="left:1417.6px;top:1020.4px;color:#2b4487;transform:scaleX(1.0100)">people to the Migration</div>
<div class="t lab" style="left:1418.3px;top:1044.0px;color:#2b4487;transform:scaleX(1.0100)">authority</div>
<div class="t body" style="left:1417.6px;top:1069.5px;color:#2b4487;transform:scaleX(1.0000)">During the fourth quarter of</div>
<div class="t body" style="left:1418.2px;top:1092.3px;color:#2b4487;transform:scaleX(0.9858)"><span style="color:#2b4487">2022. </span><span style="color:#f39b4e">(25% increase regarding</span></div>
<div class="t body" style="left:1419.0px;top:1115.1px;color:#f39b4e;transform:scaleX(1.0000)">the previous quarter).</div>
<div class="t num" style="left:1756.1px;top:787.6px;color:#f39b4e;transform:scaleX(0.9910)">33,866</div>
<div class="t lab" style="left:1754.3px;top:841.7px;color:#2b4487;transform:scaleX(1.0015)">Returnees to NCA</div>
<div class="t lab" style="left:1756.0px;top:866.1px;color:#2b4487;transform:scaleX(1.0100)">from Mexico</div>
<div class="t lab" style="left:1755.3px;top:889.4px;color:#2b4487;transform:scaleX(1.0100)">and the US</div>
<div class="t body" style="left:1754.9px;top:914.7px;color:#2b4487;transform:scaleX(1.0000)"><span style="color:#2b4487">in the fourth quarter. </span><span style="color:#f39b4e">(20%</span></div>
<div class="t body" style="left:1754.9px;top:938.0px;color:#f39b4e;transform:scaleX(1.0152)">reduction from the previous</div>
<div class="t body" style="left:1755.4px;top:960.3px;color:#f39b4e;transform:scaleX(1.0000)">quarter).</div>
</body></html>
